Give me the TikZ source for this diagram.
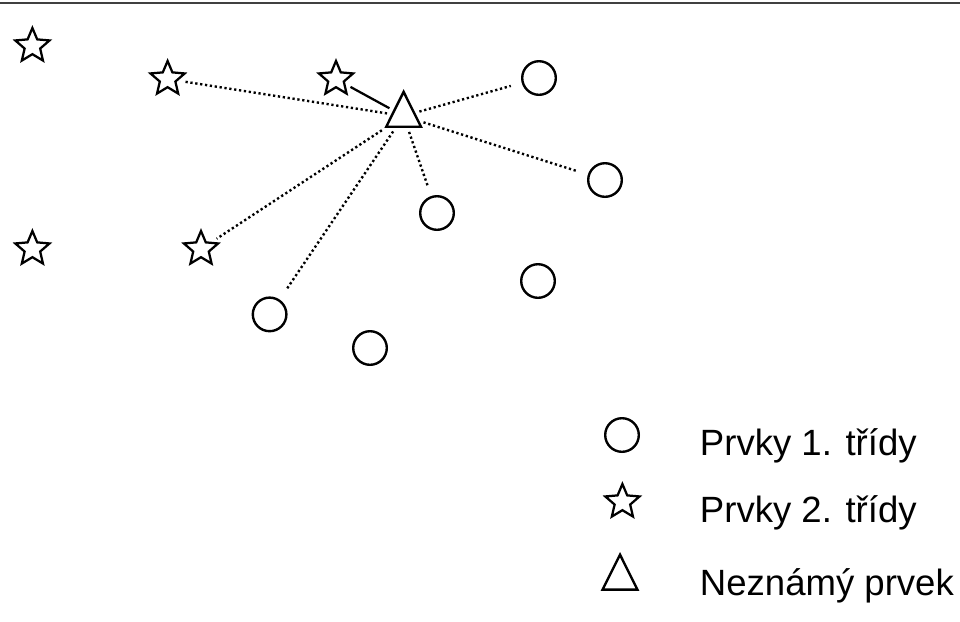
\documentclass[tikz,border=0pt]{standalone}
\usepackage{fontspec}
\setmainfont{Liberation Sans}
\usepackage{tikz}
\usetikzlibrary{shapes.geometric, positioning}

\begin{document}
\begin{tikzpicture}[
    trida1/.style={circle,draw,line width=1.7pt,inner sep=0pt,minimum size=0.84cm},
    trida2/.style={star,star points=5,star point ratio=2.2,draw,line width=1.6pt,inner sep=0pt,minimum size=0.9cm},
    neznamy/.style={isosceles triangle,isosceles triangle apex angle=53,shape border rotate=90,draw,line width=1.7pt,inner sep=0pt,minimum width=0.87cm,minimum height=0.87cm},
    vzd/.style={line width=1.7pt,dash pattern=on 1.6pt off 1.9pt,shorten <=3pt,shorten >=8pt},
    spoj/.style={line width=1.6pt,shorten <=3pt,shorten >=4pt},
    popis/.style={anchor=base west,font=\fontsize{26}{30}\selectfont}
]
    \useasboundingbox (0,0) rectangle (24,-15.525);
    \draw[line width=1.6pt,black!75] (0,-0.08) -- (24,-0.08);

    % Prvky 2. tridy
    \node[trida2] (s1) at (0.81,-1.15) {};
    \node[trida2] (s2) at (4.19,-1.975) {};
    \node[trida2] (s3) at (8.4,-1.975) {};
    \node[trida2] (s4) at (0.81,-6.225) {};
    \node[trida2] (s5) at (5.025,-6.225) {};

    % Prvky 1. tridy
    \node[trida1] (c1) at (13.475,-1.95) {};
    \node[trida1] (c2) at (15.125,-4.5) {};
    \node[trida1] (c3) at (10.925,-5.325) {};
    \node[trida1] (c4) at (13.45,-7.025) {};
    \node[trida1] (c5) at (6.74,-7.86) {};
    \node[trida1] (c6) at (9.25,-8.7) {};

    % Neznamy prvek
    \node[neznamy] (x) at (10.09,-2.9) {};

    % Vzdalenosti
    \draw[vzd,shorten >=4pt] (x) -- (s2);
    \draw[spoj] (x) -- (s3);
    \draw[vzd] (x) -- (c1);
    \draw[vzd] (x) -- (c2);
    \draw[vzd] (x) -- (c3);
    \draw[vzd] (x) -- (c5);
    \draw[vzd,shorten >=4pt] (x) -- (s5);

    % Legenda
    \node[trida1] (lc) at (15.55,-10.875) {};
    \node[trida2] (ls) at (15.56,-12.55) {};
    \node[neznamy] (lt) at (15.5,-14.47) {};
    \node[popis] (t1) at (17.375,-11.375) {Prvky 1. třídy};
    \node[popis] (t2) at (17.375,-13.05) {Prvky 2. třídy};
    \node[popis] (t3) at (17.375,-14.875) {Neznámý prvek};
\end{tikzpicture}
\end{document}
